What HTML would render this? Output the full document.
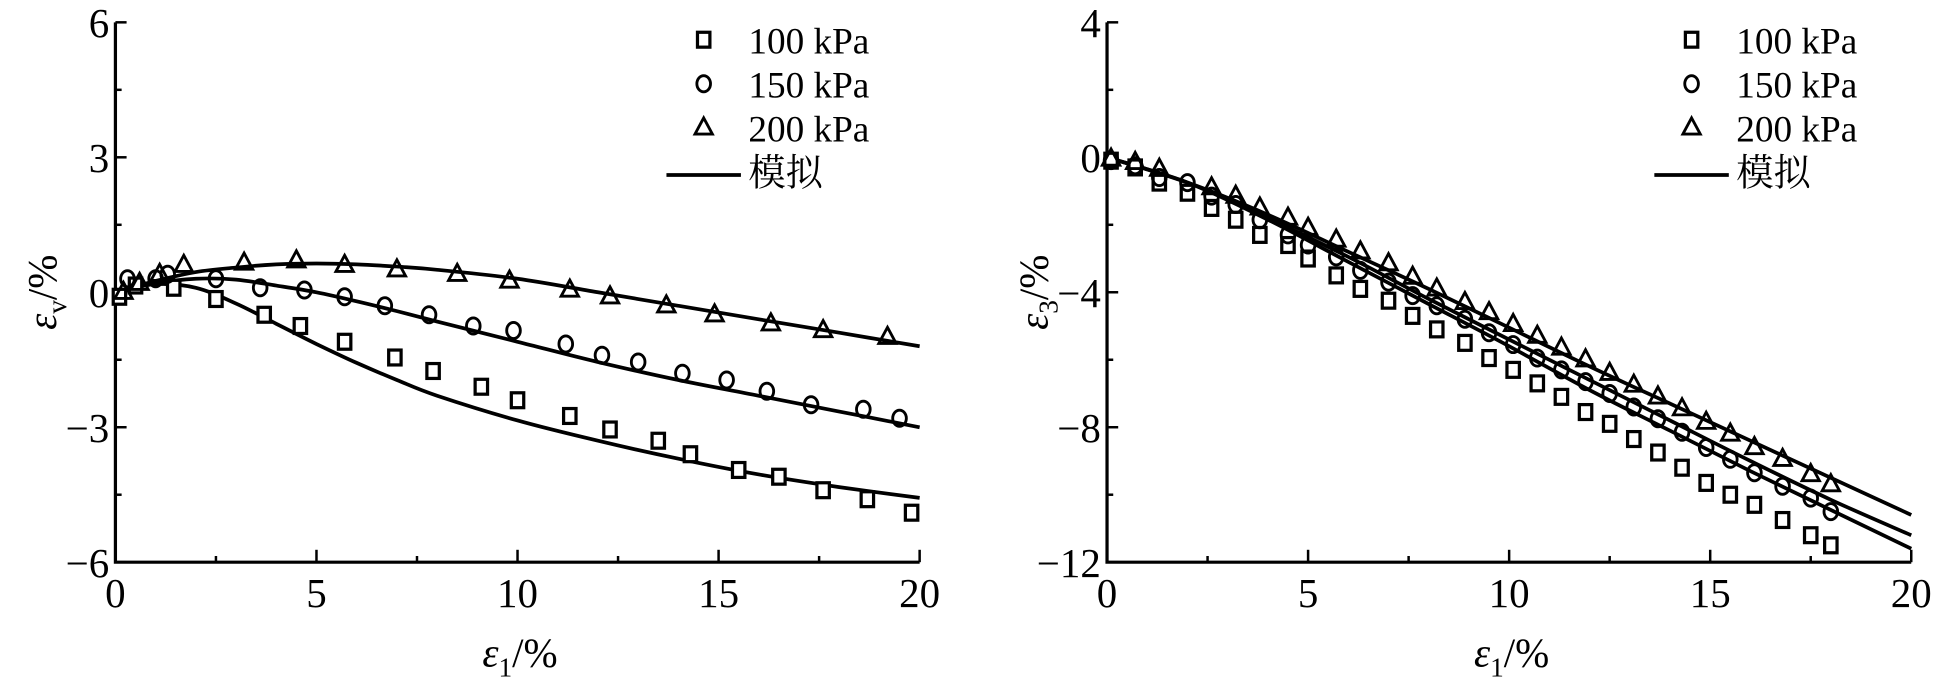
<!DOCTYPE html>
<html><head><meta charset="utf-8"><style>
html,body{margin:0;padding:0;background:#fff;}
svg{display:block;}
text{font-family:"Liberation Serif","Noto Serif CJK SC",serif;fill:#000;}
</style></head><body>
<svg id="fig" width="1946" height="693" viewBox="0 0 1568 558.4" preserveAspectRatio="none"></svg>
<script>
// ---- Left chart data (eps_v vs eps_1) ----
const L_sqX=[0.1,0.5,1.45,2.5,3.7,4.6,5.7,6.95,7.9,9.1,10.0,11.3,12.3,13.5,14.3,15.5,16.5,17.6,18.7,19.8];
const L_sqY=[-0.1,0.15,0.1,-0.15,-0.5,-0.75,-1.1,-1.45,-1.75,-2.1,-2.4,-2.75,-3.05,-3.3,-3.6,-3.95,-4.1,-4.4,-4.6,-4.9];
const L_ciX=[0.3,1.0,1.3,2.5,3.6,4.7,5.7,6.7,7.8,8.9,9.9,11.2,12.1,13.0,14.1,15.2,16.2,17.3,18.6,19.5];
const L_ciY=[0.3,0.3,0.4,0.3,0.1,0.05,-0.1,-0.3,-0.5,-0.75,-0.85,-1.15,-1.4,-1.55,-1.8,-1.95,-2.2,-2.5,-2.6,-2.8];
const L_trX=[0.2,0.6,1.1,1.7,3.2,4.5,5.7,7.0,8.5,9.8,11.3,12.3,13.7,14.9,16.3,17.6,19.2];
const L_trY=[0.0,0.2,0.4,0.6,0.65,0.7,0.6,0.5,0.4,0.25,0.05,-0.1,-0.3,-0.5,-0.7,-0.85,-1.0];
const L_lnX=[0,1,2,3,4,5,6,7,8,10,12,14,16,18,20];
const L_ln100=[0,0.18,0.1,-0.25,-0.7,-1.15,-1.57,-1.95,-2.3,-2.85,-3.3,-3.7,-4.05,-4.33,-4.57];
const L_ln150=[0,0.2,0.3,0.28,0.15,0,-0.2,-0.42,-0.65,-1.1,-1.55,-1.95,-2.3,-2.65,-3.0];
const L_ln200=[0,0.25,0.45,0.55,0.62,0.64,0.62,0.57,0.5,0.3,0.0,-0.3,-0.6,-0.9,-1.2];
const L_yTicks=[6,3,0,-3,-6];
const L_yTickLabels=["6","3","0","\u22123","\u22126"];
// ---- Right chart data (eps_3 vs eps_1) ----
const R_X=[0.1,0.7,1.3,2.0,2.6,3.2,3.8,4.5,5.0,5.7,6.3,7.0,7.6,8.2,8.9,9.5,10.1,10.7,11.3,11.9,12.5,13.1,13.7,14.3,14.9,15.5,16.1,16.8,17.5,18.0];
const R_sqY=[-0.1,-0.3,-0.75,-1.05,-1.5,-1.85,-2.3,-2.6,-3.0,-3.5,-3.9,-4.25,-4.7,-5.1,-5.5,-5.95,-6.3,-6.7,-7.1,-7.55,-7.9,-8.35,-8.75,-9.2,-9.65,-10.0,-10.3,-10.75,-11.2,-11.5];
const R_ciY=[-0.1,-0.25,-0.6,-0.75,-1.15,-1.4,-1.85,-2.3,-2.6,-2.95,-3.35,-3.7,-4.1,-4.4,-4.8,-5.2,-5.55,-5.95,-6.3,-6.65,-7.0,-7.4,-7.75,-8.15,-8.6,-8.95,-9.35,-9.75,-10.1,-10.5];
const R_trX=[0.1,0.7,1.3,2.6,3.2,3.8,4.5,5.0,5.7,6.3,7.0,7.6,8.2,8.9,9.5,10.1,10.7,11.3,11.9,12.5,13.1,13.7,14.3,14.9,15.5,16.1,16.8,17.5,18.0];
const R_trY=[-0.05,-0.15,-0.35,-0.9,-1.15,-1.5,-1.8,-2.1,-2.45,-2.8,-3.15,-3.55,-3.9,-4.3,-4.6,-4.95,-5.3,-5.65,-6.0,-6.4,-6.75,-7.1,-7.45,-7.85,-8.2,-8.6,-8.95,-9.4,-9.7];
const R_lnX=[0,2,4,6,8,10,12,14,16,18,20];
const R_ln100=[0,-0.75,-1.85,-3.1,-4.35,-5.6,-6.9,-8.1,-9.3,-10.45,-11.6];
const R_ln150=[0,-0.75,-1.8,-2.95,-4.2,-5.4,-6.6,-7.8,-9.0,-10.15,-11.2];
const R_ln200=[0,-0.75,-1.7,-2.8,-3.9,-5.05,-6.2,-7.3,-8.4,-9.5,-10.6];
const R_yTicks=[4,0,-4,-8,-12];
const R_yTickLabels=["4","0","\u22124","\u22128","\u221212"];
const xTicks=[0,5,10,15,20];
const legendLabels=["100 kPa","150 kPa","200 kPa","模拟"];

const NS="http://www.w3.org/2000/svg";
const svg=document.getElementById('fig');
function mk(tag,attrs,parent){const e=document.createElementNS(NS,tag);for(const k in attrs)e.setAttribute(k,attrs[k]);(parent||svg).appendChild(e);return e;}
function smooth(pts){
  let d='M'+pts[0][0].toFixed(1)+','+pts[0][1].toFixed(1);
  for(let i=0;i<pts.length-1;i++){
    const p0=pts[Math.max(0,i-1)],p1=pts[i],p2=pts[i+1],p3=pts[Math.min(pts.length-1,i+2)];
    const c1=[p1[0]+(p2[0]-p0[0])/6,p1[1]+(p2[1]-p0[1])/6];
    const c2=[p2[0]-(p3[0]-p1[0])/6,p2[1]-(p3[1]-p1[1])/6];
    d+=` C${c1[0].toFixed(1)},${c1[1].toFixed(1)} ${c2[0].toFixed(1)},${c2[1].toFixed(1)} ${p2[0].toFixed(1)},${p2[1].toFixed(1)}`;
  }
  return d;
}

function chart(opt){
  const g=mk('g',{});
  
  
  const x0=opt.x0,x1=opt.x0+648,yT=18,yB=453;
  const sx=v=>x0+v/20*648;
  const sy=v=>yT+(opt.ymax-v)/(opt.ymax-opt.ymin)*(yB-yT);
  const ax=mk('path',{d:`M${x0},${yT} V${yB} H${x1}`,fill:'none',stroke:'#000','stroke-width':2.6},g);
  
  
  opt.yTicks.forEach((v,i)=>{
    const y=sy(v);
    mk('line',{x1:x0,x2:x0+9,y1:y,y2:y,stroke:'#000','stroke-width':2},g);
    const t=mk('text',{x:x0-5,y:y+12,'text-anchor':'end','font-size':33},g);
    t.textContent=opt.yLabels[i];
    
    
    if(i<opt.yTicks.length-1){const ym=sy((v+opt.yTicks[i+1])/2);mk('line',{x1:x0,x2:x0+5,y1:ym,y2:ym,stroke:'#000','stroke-width':2},g);}
  });
  xTicks.forEach((v,i)=>{
    const x=sx(v);
    mk('line',{x1:x,x2:x,y1:yB,y2:yB-10,stroke:'#000','stroke-width':2},g);
    if(i<xTicks.length-1){const xm=sx(v+2.5);mk('line',{x1:xm,x2:xm,y1:yB,y2:yB-5,stroke:'#000','stroke-width':2},g);}
    const t=mk('text',{x:x,y:yB+36,'text-anchor':'middle','font-size':33},g);
    t.textContent=String(v);
    
    
  });
  const xt=mk('text',{x:x0+326,y:537,'text-anchor':'middle','font-size':33},g);
  xt.innerHTML='<tspan font-style="italic">ε</tspan><tspan font-size="22" dy="8">1</tspan><tspan dy="-8">/%</tspan>';
  
  
  const yt=mk('text',{x:0,y:0,'text-anchor':'middle','font-size':33,transform:`translate(${x0-48},${(yT+yB)/2}) rotate(-90)`},g);
  yt.innerHTML='<tspan font-style="italic">ε</tspan><tspan font-size="22" dy="8">'+opt.sub+'</tspan><tspan dy="-8">/%</tspan>';
  
  
  [opt.ln100,opt.ln150,opt.ln200].forEach((arr,k)=>{
    const pts=arr.map((v,i)=>[sx(opt.lnX[i]),sy(v)]);
    const p=mk('path',{d:smooth(pts),fill:'none',stroke:'#000','stroke-width':3,'stroke-linejoin':'round'},g);
    
    
  });
  const sq=(x,y,p)=>mk('rect',{x:x-5,y:y-6,width:10,height:12,fill:'#fff',stroke:'#000','stroke-width':2.6},p);
  const ci=(x,y,p)=>mk('ellipse',{cx:x,cy:y,rx:5.5,ry:6.5,fill:'none',stroke:'#000','stroke-width':2.3},p);
  const tr=(x,y,p)=>mk('path',{d:`M${x},${y-8} L${x+7},${y+5} L${x-7},${y+5} Z`,fill:'none',stroke:'#000','stroke-width':2.3},p);
  opt.sqX.forEach((v,i)=>{const m=sq(sx(v),sy(opt.sqY[i]),g);});
  opt.ciX.forEach((v,i)=>{const m=ci(sx(v),sy(opt.ciY[i]),g);});
  opt.trX.forEach((v,i)=>{const m=tr(sx(v),sy(opt.trY[i]),g);});
  const lg=mk('g',{},g);
  
  
  const lx=opt.legX;
  [sq,ci,tr].forEach((f,i)=>{f(lx,32+i*35.5,lg);});
  mk('line',{x1:lx-30,x2:lx+30,y1:141,y2:141,stroke:'#000','stroke-width':3},lg);
  legendLabels.forEach((s,i)=>{
    const t=mk('text',{x:lx+36,y:43+i*35.5,'font-size':30},lg);
    t.textContent=s;
    
    
  });
}
chart({name:'volumetric-strain-chart',x0:93,ymax:6,ymin:-6,yTicks:L_yTicks,yLabels:L_yTickLabels,sub:'v',
  sqX:L_sqX,sqY:L_sqY,ciX:L_ciX,ciY:L_ciY,trX:L_trX,trY:L_trY,lnX:L_lnX,ln100:L_ln100,ln150:L_ln150,ln200:L_ln200,legX:567});
chart({name:'lateral-strain-chart',x0:892,ymax:4,ymin:-12,yTicks:R_yTicks,yLabels:R_yTickLabels,sub:'3',
  sqX:R_X,sqY:R_sqY,ciX:R_X,ciY:R_ciY,trX:R_trX,trY:R_trY,lnX:R_lnX,ln100:R_ln100,ln150:R_ln150,ln200:R_ln200,legX:1363});
</script>
</body></html>
